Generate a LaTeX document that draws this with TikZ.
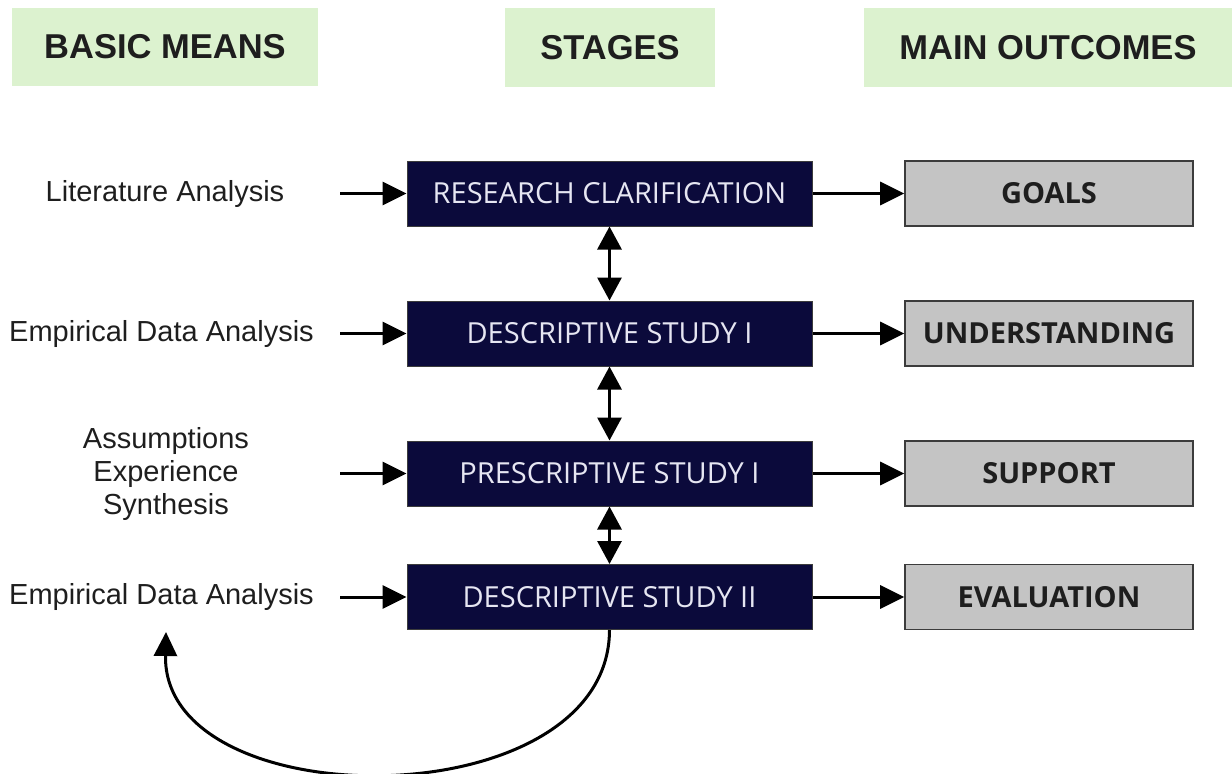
\documentclass[tikz,border=0pt]{standalone}
\usepackage{fontspec}
\setmainfont{Liberation Sans}
\newfontfamily\boxfont{Open Sans}
\usetikzlibrary{arrows.meta}
\definecolor{headgreen}{HTML}{DCF2CF}
\definecolor{navy}{HTML}{0B0A3B}
\definecolor{boxtext}{HTML}{E6E6F2}
\definecolor{outgray}{HTML}{C4C4C4}
\definecolor{outline}{HTML}{3C3C3C}
\definecolor{ink}{HTML}{1E1E1E}
\begin{document}
\begin{tikzpicture}[x=1pt,y=-1pt,
  header/.style={fill=headgreen, draw=none, inner sep=0pt, text=ink,
    font=\fontsize{34.5}{40}\selectfont\bfseries},
  stagebox/.style={fill=navy, draw=outline, line width=1pt, minimum width=405pt,
    minimum height=65pt, inner sep=0pt, text=boxtext,
    font=\boxfont\fontsize{29}{33}\selectfont},
  outbox/.style={fill=outgray, draw=outline, line width=1.6pt, minimum width=288pt,
    minimum height=65pt, inner sep=0pt, text=ink,
    font=\boxfont\fontsize{29}{33}\selectfont\bfseries},
  means/.style={text=ink, align=center, inner sep=0pt,
    font=\fontsize{29}{33}\selectfont},
  flow/.style={line width=3pt, -{Triangle[length=24pt,width=23pt]}},
  twoway/.style={line width=3pt, {Triangle[length=23pt,width=24pt]}-{Triangle[length=23pt,width=24pt]}}
]
\useasboundingbox (0,0) rectangle (1232,774);

% column headings
\node[header, minimum width=306pt, minimum height=78pt] (hmeans) at (165,47) {BASIC MEANS};
\node[header, minimum width=210pt, minimum height=79pt] (hstages) at (610,47.5) {STAGES};
\node[header, minimum width=368pt, minimum height=79pt] (hout) at (1048,47.5) {MAIN OUTCOMES};

% stages
\node[stagebox] (s1) at (609.5,193.5) {RESEARCH CLARIFICATION};
\node[stagebox] (s2) at (609.5,333.5) {DESCRIPTIVE STUDY I};
\node[stagebox] (s3) at (609.5,473.5) {PRESCRIPTIVE STUDY I};
\node[stagebox] (s4) at (609.5,597) {DESCRIPTIVE STUDY II};

% outcomes
\node[outbox] (o1) at (1049,193.5) {GOALS};
\node[outbox] (o2) at (1049,333.5) {UNDERSTANDING};
\node[outbox] (o3) at (1049,473.5) {SUPPORT};
\node[outbox] (o4) at (1049,597) {EVALUATION};

% basic means
\node[means] (m1) at (165,193.5) {Literature Analysis};
\node[means] (m2) at (161.5,333.5) {Empirical Data Analysis};
\node[means] (m3) at (166,474) {Assumptions\\Experience\\Synthesis};
\node[means] (m4) at (161.5,597) {Empirical Data Analysis};

% starting points of the input arrows
\coordinate (i1) at (340,193.5);
\coordinate (i2) at (340,333.5);
\coordinate (i3) at (340,473.5);
\coordinate (i4) at (340,597);

\foreach \k in {1,2,3,4} {
  \draw[flow] (i\k) -- (s\k.west);
  \draw[flow] (s\k.east) -- (o\k.west);
}

% links between stages
\draw[twoway] (s1.south) -- (s2.north);
\draw[twoway] (s2.south) -- (s3.north);
\draw[twoway] (s3.south) -- (s4.north);

% feedback loop
\coordinate (back) at (166,632);
\draw[flow] (s4.south) .. controls (609,820) and (162,820) .. (back);
\end{tikzpicture}
\end{document}
